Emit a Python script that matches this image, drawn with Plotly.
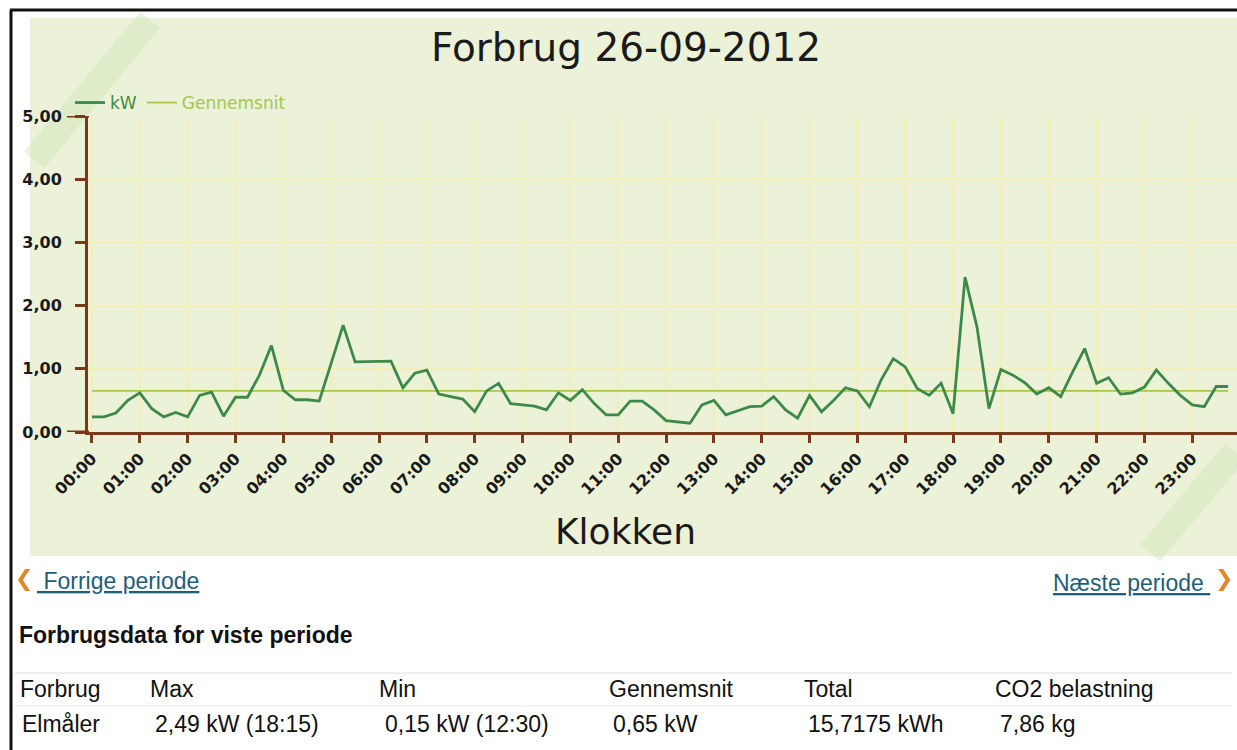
import plotly.graph_objects as go

# ---------------- data ----------------
times = [f"{h:02d}:{m:02d}" for h in range(24) for m in (0, 15, 30, 45)]
kw = [0.24, 0.24, 0.30, 0.50, 0.62, 0.37, 0.24, 0.31, 0.24, 0.58, 0.63, 0.25,
      0.55, 0.55, 0.90, 1.37, 0.66, 0.51, 0.51, 0.49, 1.09, 1.69, 1.11, 1.11,
      1.12, 1.12, 0.70, 0.93, 0.98, 0.60, 0.56, 0.52, 0.32, 0.65, 0.77, 0.45,
      0.43, 0.41, 0.35, 0.62, 0.50, 0.67, 0.45, 0.27, 0.27, 0.49, 0.49, 0.35,
      0.18, 0.16, 0.14, 0.43, 0.50, 0.27, 0.33, 0.40, 0.41, 0.56, 0.35, 0.22,
      0.58, 0.32, 0.50, 0.70, 0.65, 0.40, 0.83, 1.16, 1.03, 0.69, 0.58, 0.77,
      0.29, 2.45, 1.66, 0.37, 0.99, 0.90, 0.78, 0.60, 0.70, 0.56, 0.95, 1.32,
      0.77, 0.86, 0.60, 0.62, 0.71, 0.98, 0.77, 0.58, 0.43, 0.40, 0.72, 0.72]
avg_kw = 0.65
hour_labels = [f"{h:02d}:00" for h in range(24)]
y_tickvals = [0, 1, 2, 3, 4, 5]
y_ticktext = ["0,00", "1,00", "2,00", "3,00", "4,00", "5,00"]

title_text = "Forbrug 26-09-2012"
x_title = "Klokken"
stats_heading = "Forbrugsdata for viste periode"
stats_headers = ["Forbrug", "Max", "Min", "Gennemsnit", "Total", "CO2 belastning"]
stats_values = ["Elmåler", "2,49 kW (18:15)", "0,15 kW (12:30)", "0,65 kW", "15,7175 kWh", "7,86 kg"]

# ---------------- style / layout ----------------
W, H = 1237, 750
def px(x): return x / W
def py(y): return 1 - y / H

BROWN = "#7a3a1a"
DARK_GREEN = "#3d8a48"
LIGHT_GREEN = "#a6c64c"
BG_GREEN = "#ecf2d8"
GRID = "#f3efbd"
LINK = "#1f5e78"
ORANGE = "#e0872a"
VERD = "DejaVu Sans"
ARIAL = "Liberation Sans"

header_x = [18, 148, 377, 607, 802, 993]
value_x = [20, 153, 383, 611, 806, 998]

fig = go.Figure()
fig.add_trace(go.Scatter(
    x=times, y=[avg_kw] * len(times), mode="lines",
    name=f"<span style='color:{LIGHT_GREEN}'>Gennemsnit</span>",
    line=dict(color=LIGHT_GREEN, width=1.8), legendrank=2, hoverinfo="skip"))
fig.add_trace(go.Scatter(
    x=times, y=kw, mode="lines",
    name=f"<span style='color:{DARK_GREEN}'>kW</span>",
    line=dict(color=DARK_GREEN, width=2.8), legendrank=1))

shapes = [
    # chart background panel
    dict(type="rect", xref="paper", yref="paper", x0=px(30), x1=1, y0=py(556), y1=py(18),
         fillcolor=BG_GREEN, line=dict(width=0), layer="below"),
    # decorative diagonal streaks
    dict(type="line", xref="paper", yref="paper", x0=px(34), y0=py(160), x1=px(150), y1=py(20),
         line=dict(color="rgba(205,228,180,0.4)", width=26), layer="below"),
    dict(type="line", xref="paper", yref="paper", x0=px(1150), y0=py(553), x1=px(1235), y1=py(452),
         line=dict(color="rgba(205,228,180,0.4)", width=26), layer="below"),
    # axis-line extensions at 0 and 5
    dict(type="line", xref="paper", yref="y", x0=px(67), x1=px(89), y0=0, y1=0,
         line=dict(color=BROWN, width=3)),
    dict(type="line", xref="paper", yref="y", x0=px(67), x1=px(89), y0=5, y1=5,
         line=dict(color=BROWN, width=3)),
    # page border lines
    dict(type="line", xref="paper", yref="paper", x0=px(10), x1=1, y0=py(10), y1=py(10),
         line=dict(color="#111", width=3)),
    dict(type="line", xref="paper", yref="paper", x0=px(11), x1=px(11), y0=py(10), y1=0,
         line=dict(color="#111", width=3)),
    # table separators
    dict(type="line", xref="paper", yref="paper", x0=px(15), x1=px(1232), y0=py(673), y1=py(673),
         line=dict(color="#dddddd", width=1)),
    dict(type="line", xref="paper", yref="paper", x0=px(15), x1=px(1232), y0=py(706), y1=py(706),
         line=dict(color="#e4e4e4", width=1)),
]

annotations = [
    dict(text=x_title, x=px(626), y=py(531), xanchor="center", yanchor="middle",
         font=dict(family=VERD, size=36, color="#1a1a1a")),
    dict(text="❮", x=px(13), y=py(579), xanchor="left", yanchor="middle",
         font=dict(family=VERD, size=22, color=ORANGE)),
    dict(text="<u> Forrige periode</u>", x=px(35), y=py(581), xanchor="left", yanchor="middle",
         font=dict(family=ARIAL, size=23, color=LINK)),
    dict(text="<u>Næste periode </u>", x=px(1212), y=py(583), xanchor="right", yanchor="middle",
         font=dict(family=ARIAL, size=23, color=LINK)),
    dict(text="❯", x=px(1213), y=py(579), xanchor="left", yanchor="middle",
         font=dict(family=VERD, size=22, color=ORANGE)),
    dict(text=f"<b>{stats_heading}</b>", x=px(17), y=py(635), xanchor="left", yanchor="middle",
         font=dict(family=ARIAL, size=23, color="#111")),
]
for t, xx in zip(stats_headers, header_x):
    annotations.append(dict(text=t, x=px(xx), y=py(689), xanchor="left", yanchor="middle",
                            font=dict(family=ARIAL, size=23, color="#111")))
for t, xx in zip(stats_values, value_x):
    annotations.append(dict(text=t, x=px(xx), y=py(724), xanchor="left", yanchor="middle",
                            font=dict(family=ARIAL, size=23, color="#111")))
for a in annotations:
    a.update(xref="paper", yref="paper", showarrow=False)

fig.update_layout(
    width=W, height=H, autosize=False,
    margin=dict(l=0, r=0, t=0, b=0, pad=0, autoexpand=False),
    paper_bgcolor="white", plot_bgcolor="rgba(0,0,0,0)",
    title=dict(text=title_text, x=px(626), xanchor="center", y=py(47), yanchor="middle",
               xref="paper", yref="container", automargin=False,
               font=dict(family=VERD, size=39, color="#1a1a1a")),
    showlegend=True,
    legend=dict(orientation="h", x=px(70), xanchor="left", y=py(103), yanchor="middle",
                bgcolor="rgba(0,0,0,0)", font=dict(family=VERD, size=17),
                itemwidth=30, traceorder="normal"),
    xaxis=dict(domain=[px(88), 1], type="category", range=[-0.334, 95.74], automargin=False,
               tickmode="array", tickvals=hour_labels, ticktext=hour_labels, tickangle=-45,
               ticks="outside", ticklen=8, tickwidth=3, tickcolor=BROWN,
               showline=True, linecolor=BROWN, linewidth=3,
               showgrid=True, gridcolor=GRID, gridwidth=1.5, zeroline=False,
               tickfont=dict(family=VERD, size=16, color="#1a1a1a", weight="bold")),
    yaxis=dict(domain=[py(432), py(116)], range=[0, 5], automargin=False,
               tickmode="array", tickvals=y_tickvals, ticktext=y_ticktext,
               ticks="outside", ticklen=10, tickwidth=3, tickcolor=BROWN,
               showline=True, linecolor=BROWN, linewidth=3,
               showgrid=True, gridcolor=GRID, gridwidth=1.5, zeroline=False,
               ticklabelstandoff=10,
               tickfont=dict(family=VERD, size=16, color="#1a1a1a", weight="bold")),
    shapes=shapes, annotations=annotations,
)

fig.write_html("out.html", config={"displayModeBar": False},
               post_script="document.body.style.margin='0';document.body.style.overflow='hidden';")
